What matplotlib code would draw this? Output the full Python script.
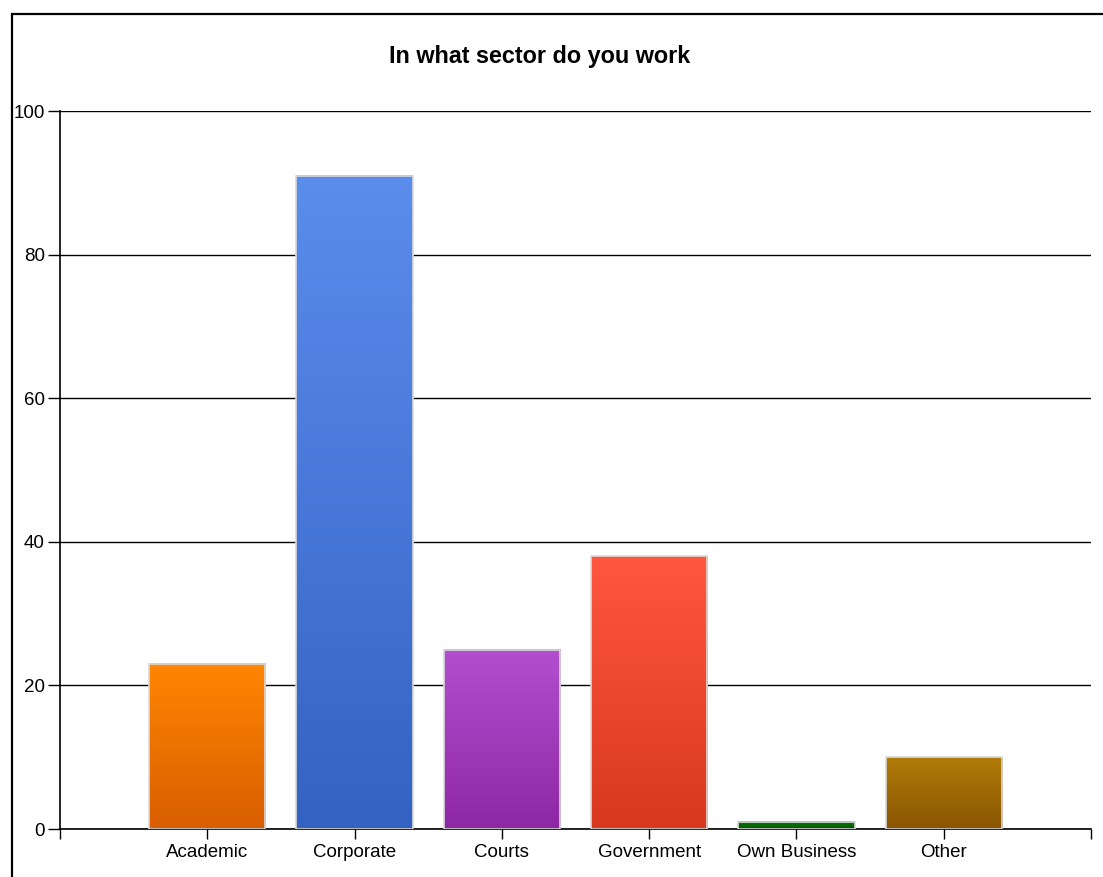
import numpy as np
import matplotlib.pyplot as plt
from matplotlib.colors import LinearSegmentedColormap
from matplotlib.patches import Rectangle

plt.rcParams['font.family'] = ['Liberation Sans', 'DejaVu Sans']

sectors = ['Academic', 'Corporate', 'Courts', 'Government', 'Own Business', 'Other']
counts = [23, 91, 25, 38, 1, 10]
# (top colour, bottom colour) for each bar
shades = [('#ff8602', '#d95e00'),
          ('#5b8ded', '#3462c3'),
          ('#b24fd0', '#8e27a4'),
          ('#ff5740', '#d8381e'),
          ('#0a7d0a', '#005500'),
          ('#b07c0a', '#8a5500')]

fig = plt.figure(figsize=(11.03, 8.77), dpi=100)
fig.patch.set_facecolor('white')

# outer frame
fig.patches.append(Rectangle((12 / 1103, -0.1), 1.2, 1 - 13.5 / 877 + 0.1,
                             transform=fig.transFigure, fill=False,
                             edgecolor='black', linewidth=1.6))

ax = fig.add_axes([60 / 1103, 48 / 877, 1031 / 1103, 718 / 877])

pos = np.arange(1, len(sectors) + 1)
bars = ax.bar(pos, counts, width=0.79, color='none', edgecolor='#dadada',
              linewidth=1.2, zorder=3)
grad = np.linspace(0, 1, 256).reshape(-1, 1)
for b, (top, bot) in zip(bars, shades):
    cmap = LinearSegmentedColormap.from_list('g', [bot, top])
    x0, y0 = b.get_x(), b.get_y()
    ax.imshow(grad, cmap=cmap, origin='lower', aspect='auto',
              extent=(x0, x0 + b.get_width(), y0, y0 + b.get_height()),
              zorder=2)
ax.set_xlim(0, 7)
ax.set_ylim(0, 100)

ax.set_yticks(range(0, 101, 20))
ax.yaxis.grid(True, color='black', linewidth=1)
ax.set_axisbelow(True)
ax.tick_params(axis='y', length=9, width=1, pad=2, labelsize=13.5,
               colors='black')
ax.set_xticks(range(0, 8))
ax.set_xticklabels([''] + sectors + [''])
ax.tick_params(axis='x', length=7, width=1, pad=4, labelsize=13.5)

for s in ['top', 'right']:
    ax.spines[s].set_visible(False)
for s in ['left', 'bottom']:
    ax.spines[s].set_linewidth(1.2)

fig.text(540 / 1103, 1 - 56 / 877, 'In what sector do you work',
         ha='center', va='center', fontsize=16.8, fontweight='bold')

fig.savefig('out.png', dpi=100)
